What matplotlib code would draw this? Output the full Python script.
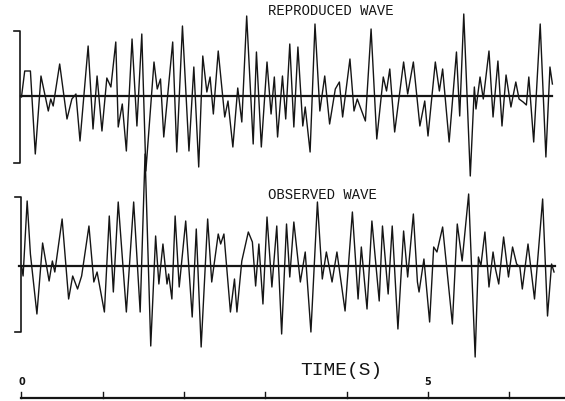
import matplotlib
matplotlib.use("Agg")
from matplotlib import pyplot as plt
import numpy as np

# reproduced wave (top trace) - time in seconds, amplitude in plot units
rep_t = [0.00, 0.04, 0.11, 0.17, 0.24, 0.33, 0.36, 0.39, 0.47, 0.56,
         0.62, 0.67, 0.72, 0.82, 0.88, 0.93, 0.99, 1.05, 1.10, 1.16,
         1.19, 1.24, 1.29, 1.36, 1.42, 1.48, 1.53, 1.63, 1.67, 1.71,
         1.75, 1.86, 1.91, 1.98, 2.06, 2.12, 2.18, 2.23, 2.28, 2.32,
         2.36, 2.42, 2.50, 2.54, 2.60, 2.66, 2.71, 2.77, 2.85, 2.89,
         2.95, 3.02, 3.07, 3.11, 3.15, 3.21, 3.25, 3.30, 3.35, 3.40,
         3.46, 3.49, 3.55, 3.61, 3.67, 3.73, 3.79, 3.86, 3.91, 3.95,
         4.04, 4.09, 4.13, 4.23, 4.30, 4.37, 4.45, 4.49, 4.53, 4.59,
         4.70, 4.75, 4.82, 4.90, 4.96, 5.00, 5.09, 5.14, 5.18, 5.26,
         5.35, 5.39, 5.44, 5.52, 5.57, 5.59, 5.64, 5.68, 5.75, 5.80,
         5.86, 5.91, 5.96, 6.02, 6.08, 6.12, 6.17, 6.21, 6.24, 6.30,
         6.38, 6.45, 6.50, 6.53]
rep_a = [-1, 25, 25, -58, 20, -15, -3, -10, 32, -23,
         -3, 2, -45, 50, -33, 20, -35, 18, 9, 54,
         -31, -8, -55, 57, -30, 62, -75, 34, 7, 17,
         -41, 54, -56, 70, -55, 29, -71, 40, 4, 19,
         -18, 45, -21, -5, -51, 8, -26, 80, -48, 44,
         -51, 34, -18, 19, -41, 20, -23, 52, -31, 49,
         -30, -11, -56, 72, -15, 20, -28, 7, 14, -21,
         37, -15, -3, -25, 67, -43, 19, 5, 27, -36,
         34, 2, 34, -30, -5, -40, 34, 5, 27, -46,
         44, -20, 82, -80, 9, -13, 19, -3, 45, -21,
         35, -30, 21, -11, 14, -3, -6, -9, 19, -46,
         72, -61, 29, 12]

# observed wave (bottom trace)
obs_t = [0.00, 0.02, 0.07, 0.11, 0.19, 0.26, 0.34, 0.38, 0.41, 0.50,
         0.58, 0.63, 0.69, 0.74, 0.83, 0.89, 0.93, 1.02, 1.08, 1.13,
         1.19, 1.29, 1.38, 1.46, 1.52, 1.59, 1.65, 1.69, 1.74, 1.79,
         1.81, 1.85, 1.89, 1.94, 2.02, 2.10, 2.15, 2.21, 2.29, 2.34,
         2.42, 2.45, 2.49, 2.57, 2.62, 2.65, 2.71, 2.79, 2.84, 2.88,
         2.92, 2.97, 3.02, 3.08, 3.14, 3.20, 3.26, 3.30, 3.35, 3.43,
         3.49, 3.56, 3.64, 3.70, 3.75, 3.82, 3.88, 3.98, 4.07, 4.14,
         4.18, 4.25, 4.31, 4.40, 4.44, 4.51, 4.56, 4.63, 4.70, 4.75,
         4.82, 4.87, 4.89, 4.95, 5.02, 5.07, 5.11, 5.18, 5.30, 5.36,
         5.42, 5.50, 5.58, 5.62, 5.65, 5.70, 5.75, 5.80, 5.83, 5.87,
         5.93, 5.99, 6.04, 6.09, 6.13, 6.16, 6.23, 6.31, 6.41, 6.47,
         6.52, 6.55]
obs_a = [0, -10, 65, 12, -48, 23, -15, 5, -6, 47,
         -33, -10, -23, -10, 40, -16, -6, -46, 50, -26,
         64, -46, 64, -46, 112, -80, 30, -18, 22, -18,
         -8, -33, 50, -21, 45, -51, 37, -81, 47, -16,
         32, 22, 32, -46, -13, -46, 5, 34, 24, -20,
         22, -38, 49, -21, 40, -68, 42, -11, 44, -16,
         14, -66, 64, -13, 14, -16, 14, -45, 54, -33,
         19, -43, 45, -35, 40, -28, 40, -63, 35, -11,
         52, -16, -26, 7, -56, 19, 14, 39, -58, 42,
         5, 72, -91, 9, 0, 34, -21, 14, -3, -18,
         29, -11, 19, 2, -1, -23, 22, -33, 67, -50,
         2, -6]

tick_seconds = [0, 1, 2, 3, 4, 5, 6]
tick_labels = {0: "0", 5: "5"}

ink = "#151515"
mono = "Liberation Mono"

fig = plt.figure(figsize=(5.65, 4.02), dpi=100)
ax = fig.add_axes([0, 0, 1, 1])
ax.set_xlim(-0.264, 6.685)
ax.set_ylim(402, 0)     # screen-like vertical units, downwards
ax.axis("off")

top_base = 97
bot_base = 267

# baselines
ax.plot([-0.01, 6.53], [top_base, top_base], color=ink, lw=1.6)
ax.plot([-0.03, 6.56], [bot_base, bot_base], color=ink, lw=1.6)

# traces
ax.plot(rep_t, top_base - np.array(rep_a), color=ink, lw=1.0,
        solid_joinstyle="round")
ax.plot(obs_t, bot_base - np.array(obs_a), color=ink, lw=1.0,
        solid_joinstyle="round")

# amplitude brackets
ax.plot([-0.092, -0.012, -0.012, -0.092], [32, 32, 164, 164], color=ink, lw=1.2)
ax.plot([-0.08, 0.0, 0.0, -0.08], [198, 198, 333, 333], color=ink, lw=1.2)

# titles
ax.text(3.81, 11, "REPRODUCED WAVE", family=mono, fontsize=10,
        ha="center", va="center", color=ink)
ax.text(3.70, 195, "OBSERVED WAVE", family=mono, fontsize=10,
        ha="center", va="center", color=ink)

# time axis
ax.plot([0, 6.685], [399, 399], color=ink, lw=1.6)
for s in tick_seconds:
    ax.plot([s, s], [399, 393], color=ink, lw=1.0)
    if s in tick_labels:
        ax.text(s, 382, tick_labels[s], fontsize=7, fontweight="bold",
                ha="center", va="center", color=ink)
ax.text(3.94, 371, "TIME(S)", family=mono, fontsize=14,
        ha="center", va="center", color=ink)

plt.savefig("out.png", dpi=100)
